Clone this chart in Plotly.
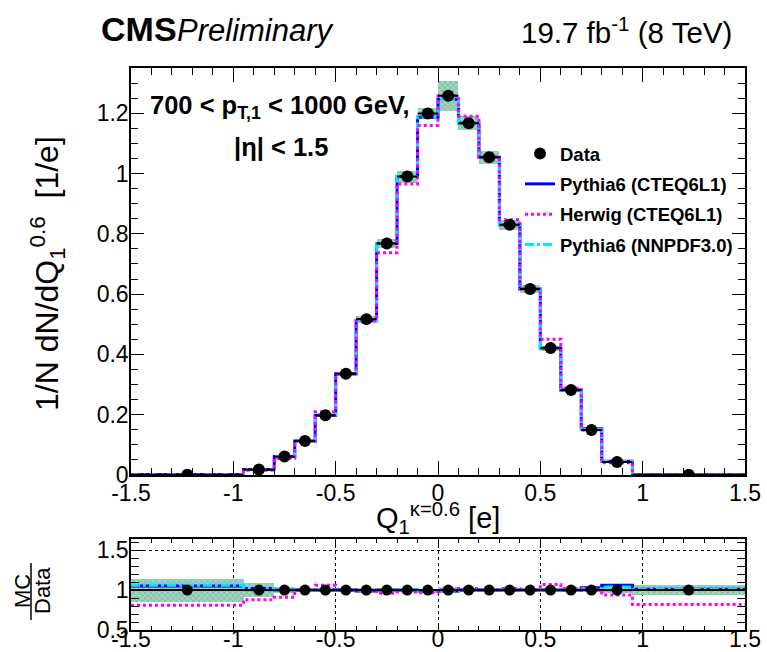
import plotly.graph_objects as go

# ---- binning in Q_1^{kappa=0.6} ----
bin_edges = [-1.5, -0.95, -0.8, -0.7, -0.6, -0.5, -0.4, -0.3, -0.2, -0.1, 0.0,
             0.1, 0.2, 0.3, 0.4, 0.5, 0.6, 0.7, 0.8, 0.95, 1.5]

# ---- unfolded data: 1/N dN/dQ [1/e] and relative uncertainty ----
data_vals = [0.0012, 0.018, 0.061, 0.113, 0.198, 0.336, 0.517, 0.768, 0.990, 1.199,
             1.258, 1.167, 1.054, 0.830, 0.617, 0.421, 0.282, 0.149, 0.043, 0.0012]
data_rel_unc = [0.145, 0.085, 0.035, 0.03, 0.025, 0.02, 0.02, 0.02, 0.02, 0.015,
                0.04, 0.02, 0.02, 0.02, 0.02, 0.02, 0.025, 0.03, 0.04, 0.065]

# ---- MC / Data ratios per bin ----
ratio_pythia_cteq = [1.05, 1.02, 1.0, 1.0, 1.0, 1.0, 0.99, 1.0, 1.0, 0.99,
                     0.99, 1.0, 1.0, 1.0, 1.0, 1.0, 1.0, 1.03, 1.06, 1.01]
ratio_herwig_cteq = [0.81, 0.88, 0.91, 1.0, 1.06, 1.0, 0.99, 0.96, 0.975, 0.967,
                     1.0, 1.02, 1.0, 1.02, 1.0, 1.07, 1.02, 1.0, 0.94, 0.82]
ratio_pythia_nnpdf = [1.06, 1.02, 1.0, 1.0, 1.01, 1.0, 0.99, 1.0, 1.0, 0.99,
                      0.99, 1.0, 1.0, 1.0, 1.0, 1.0, 1.0, 1.02, 1.04, 1.01]

x_tickvals = [-1.5, -1, -0.5, 0, 0.5, 1, 1.5]
x_ticktext = ["-1.5", "-1", "-0.5", "0", "0.5", "1", "1.5"]
y_tickvals = [0, 0.2, 0.4, 0.6, 0.8, 1.0, 1.2]
y_ticktext = ["0", "0.2", "0.4", "0.6", "0.8", "1", "1.2"]
r_tickvals = [0.5, 1.0, 1.5]
r_ticktext = ["0.5", "1", "1.5"]

FONT = "Liberation Sans, Arial, Helvetica, sans-serif"

centers = [(a + b) / 2 for a, b in zip(bin_edges[:-1], bin_edges[1:])]
widths = [b - a for a, b in zip(bin_edges[:-1], bin_edges[1:])]
half_w = [w / 2 for w in widths]
data_abs_unc = [v * r for v, r in zip(data_vals, data_rel_unc)]

mc_models = [
    ("Pythia6 (CTEQ6L1)", ratio_pythia_cteq, dict(color="#0000ff", width=3), 2),
    ("Pythia6 (NNPDF3.0)", ratio_pythia_nnpdf, dict(color="#00e8ff", width=3, dash="dashdot"), 4),
    ("Herwig (CTEQ6L1)", ratio_herwig_cteq, dict(color="#ff00ff", width=3, dash="dot"), 3),
]

band_marker = dict(
    color="#9dd7bf",
    line=dict(width=0),
    pattern=dict(shape="x", bgcolor="#9dd7bf", fgcolor="#5b7c6e", size=4, solidity=0.3),
)

fig = go.Figure()

# uncertainty band on the distribution
fig.add_trace(go.Bar(
    x=centers, y=[2 * e for e in data_abs_unc],
    base=[v - e for v, e in zip(data_vals, data_abs_unc)],
    width=widths, marker=band_marker, showlegend=False, hoverinfo="skip",
    xaxis="x", yaxis="y",
))
# uncertainty band in the ratio
fig.add_trace(go.Bar(
    x=centers, y=[2 * r for r in data_rel_unc],
    base=[1 - r for r in data_rel_unc],
    width=widths, marker=band_marker, showlegend=False, hoverinfo="skip",
    xaxis="x2", yaxis="y2",
))

for name, ratio, line, rank in mc_models:
    mc_vals = [d * r for d, r in zip(data_vals, ratio)]
    fig.add_trace(go.Scatter(
        x=bin_edges, y=mc_vals + [mc_vals[-1]], mode="lines", line_shape="hv",
        line=line, name=name, legendgroup=name, legendrank=rank,
        xaxis="x", yaxis="y",
    ))
    fig.add_trace(go.Scatter(
        x=bin_edges, y=list(ratio) + [ratio[-1]], mode="lines", line_shape="hv",
        line=line, showlegend=False, xaxis="x2", yaxis="y2",
    ))

fig.add_trace(go.Scatter(
    x=centers, y=data_vals, mode="markers", name="Data", legendgroup="Data", legendrank=1,
    marker=dict(color="black", size=12),
    error_x=dict(type="data", array=half_w, color="black", thickness=2, width=0),
    xaxis="x", yaxis="y",
))
fig.add_trace(go.Scatter(
    x=centers, y=[1.0] * len(centers), mode="markers", showlegend=False,
    marker=dict(color="black", size=11),
    error_x=dict(type="data", array=half_w, color="black", thickness=2, width=0),
    xaxis="x2", yaxis="y2",
))

W, H = 767, 652
ML, MR, MT, MB = 131, 22, 68, 22
PW, PH = W - ML - MR, H - MT - MB


def px(xp):
    return (xp - ML) / PW


def py(yp):
    return (H - MB - yp) / PH


axis_common = dict(
    showline=True, linecolor="black", linewidth=1.5, mirror="allticks",
    ticks="inside", tickcolor="black", tickwidth=1.2, zeroline=False,
    automargin=False,
    tickfont=dict(family=FONT, size=23, color="black"),
)

fig.update_layout(
    width=W, height=H,
    margin=dict(l=ML, r=MR, t=MT, b=MB, autoexpand=False),
    paper_bgcolor="white", plot_bgcolor="white",
    barmode="overlay", bargap=0,
    font=dict(family=FONT, color="black"),
    xaxis=dict(**axis_common, range=[-1.5, 1.5], domain=[0, 1], anchor="y",
               tickvals=x_tickvals, ticktext=x_ticktext, ticklen=14,
               ticklabelstandoff=-3,
               minor=dict(dtick=0.1, ticklen=7, ticks="inside", tickcolor="black"),
               showgrid=False),
    yaxis=dict(**axis_common, range=[0, 1.35], domain=[py(475), 1], anchor="x",
               tickvals=y_tickvals, ticktext=y_ticktext, ticklen=13,
               ticklabelstandoff=-4,
               minor=dict(dtick=0.05, ticklen=7, ticks="inside", tickcolor="black"),
               showgrid=False),
    xaxis2=dict(**axis_common, range=[-1.5, 1.5], domain=[0, 1], anchor="y2",
                tickvals=x_tickvals, ticktext=x_ticktext, ticklen=7,
                ticklabelstandoff=-12,
                minor=dict(dtick=0.1, ticklen=4, ticks="inside", tickcolor="black"),
                showgrid=True, gridcolor="black", griddash="dot", gridwidth=1),
    yaxis2=dict(**axis_common, range=[0.5, 1.64], domain=[0, py(539)], anchor="x2",
                tickvals=r_tickvals, ticktext=r_ticktext, ticklen=15,
                ticklabelstandoff=-4,
                minor=dict(dtick=0.1, ticklen=8, ticks="inside", tickcolor="black"),
                showgrid=True, gridcolor="black", griddash="dot", gridwidth=1),
    legend=dict(
        x=px(520), y=py(135), xanchor="left", yanchor="top",
        bgcolor="rgba(0,0,0,0)", traceorder="grouped", tracegroupgap=3.3,
        font=dict(family=FONT, size=18.5, color="black", weight="bold"),
    ),
    showlegend=True,
)

ann = [
    dict(text="<b>CMS</b>", x=px(99), y=py(29), xanchor="left", yanchor="middle",
         font=dict(size=34)),
    dict(text="<i>Preliminary</i>", x=px(175), y=py(31), xanchor="left", yanchor="middle",
         font=dict(size=31)),
    dict(text="19.7 fb<sup>-1</sup> (8 TeV)", x=px(734), y=py(30), xanchor="right",
         yanchor="middle", font=dict(size=29.5)),
    dict(text="<b>700 &lt; p<sub>T,1</sub> &lt; 1000 GeV,</b>", x=px(148), y=py(107),
         xanchor="left", yanchor="middle", font=dict(size=25.5)),
    dict(text="<b>|η| &lt; 1.5</b>", x=px(281), y=py(147), xanchor="center",
         yanchor="middle", font=dict(size=25.5)),
    dict(text="1/N dN/dQ<sub>1</sub><sup>0.6</sup> &nbsp;[1/e]", x=px(47), y=py(274),
         xanchor="center", yanchor="middle", textangle=-90, font=dict(size=32)),
    dict(text="Q<sub>1</sub><sup>κ=0.6</sup> [e]", x=px(438), y=py(518),
         xanchor="center", yanchor="middle", font=dict(size=29)),
    dict(text="MC", x=px(22), y=py(591), xanchor="center", yanchor="middle",
         textangle=-90, font=dict(size=22)),
    dict(text="Data", x=px(42), y=py(591), xanchor="center", yanchor="middle",
         textangle=-90, font=dict(size=22)),
]
for a in ann:
    a.update(xref="paper", yref="paper", showarrow=False)
    a["font"].update(family=FONT, color="black")
fig.update_layout(annotations=ann)

# fraction bar of the ratio-axis title
fig.add_shape(type="line", xref="paper", yref="paper",
              x0=px(31), x1=px(31), y0=py(563), y1=py(620),
              line=dict(color="black", width=1.5))

fig.write_html("out.html")
